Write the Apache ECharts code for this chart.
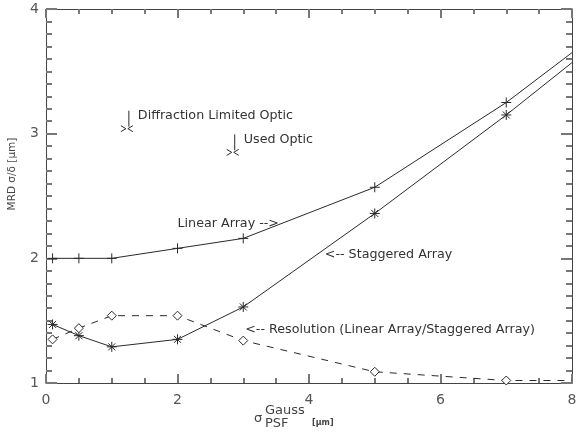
<!DOCTYPE html>
<html><head><meta charset="utf-8">
<script src="https://cdn.jsdelivr.net/npm/echarts@6/dist/echarts.min.js"></script>
<style>html,body{margin:0;padding:0;background:#fff}#c{width:577px;height:432px}</style>
</head><body><div id="c"></div>
<script>
// ---- data ----
const linearX = [0.1, 0.5, 1, 2, 3, 5, 7, 8];
const linearY = [2.0, 2.0, 2.0, 2.08, 2.16, 2.57, 3.25, 3.65];
const staggeredX = [0.1, 0.5, 1, 2, 3, 5, 7, 8];
const staggeredY = [1.47, 1.38, 1.29, 1.35, 1.61, 2.36, 3.15, 3.57];
const resolutionX = [0.1, 0.5, 1, 2, 3, 5, 7, 8];
const resolutionY = [1.35, 1.44, 1.54, 1.54, 1.34, 1.09, 1.02, 1.02];
const markedCount = 7; // last point of each curve sits on the plot edge (no marker)
const opticNames = ['Diffraction Limited Optic', 'Used Optic'];
const opticX = [1.23, 2.84];
const opticY = [3.04, 2.85];
const annotText = ['Linear Array -->', '<-- Staggered Array', '<-- Resolution (Linear Array/Staggered Array)'];
const annotX = [2.0, 4.24, 3.03];
const annotY = [2.28, 2.03, 1.43];
const xTicks = [0, 2, 4, 6, 8];
const yTicks = [1, 2, 3, 4];
const xMinorSplit = 4;
const yMinorSplit = 10;

const INK = '#2a2a2a';
const AX = '#444';
const TICK = '#777';
const FONT = 'DejaVu Sans';
const TXT = '12.7px "DejaVu Sans"';
const plus = 'path://M0,5L10,5M5,0L5,10';
const star = 'path://M0,5L10,5M5,0L5,10M1.5,1.5L8.5,8.5M1.5,8.5L8.5,1.5';

function mk(xs, ys, sym) {
  return xs.map((x, i) => ({ value: [x, ys[i]], symbol: i < markedCount ? sym : 'none' }));
}
const chart = echarts.init(document.getElementById('c'), null, { renderer: 'canvas' });
const xMin = xTicks[0], xMax = xTicks[xTicks.length - 1];
const yMin = yTicks[0], yMax = yTicks[yTicks.length - 1];
function xAx(pos, labels) {
  return { type: 'value', position: pos, min: xMin, max: xMax, interval: 2,
    axisLine: { show: true, onZero: false, lineStyle: { color: AX, width: 1 } }, splitLine: { show: false },
    axisTick: { show: true, inside: true, length: 9, lineStyle: { color: TICK, width: 2 } },
    minorTick: { show: true, splitNumber: xMinorSplit, length: 5, lineStyle: { color: TICK, width: 2 } },
    axisLabel: labels ? { show: true, color: '#555', fontFamily: FONT, fontSize: 14, margin: 10 } : { show: false } };
}
function yAx(pos, labels) {
  return { type: 'value', position: pos, min: yMin, max: yMax, interval: 1,
    axisLine: { show: true, onZero: false, lineStyle: { color: AX, width: 1 } }, splitLine: { show: false },
    axisTick: { show: true, inside: true, length: 11, lineStyle: { color: TICK, width: 2 } },
    minorTick: { show: true, splitNumber: yMinorSplit, length: 6, lineStyle: { color: TICK, width: 2 } },
    axisLabel: labels ? { show: true, color: '#555', fontFamily: FONT, fontSize: 14, margin: 7, padding: [0, 0, 4, 0] } : { show: false } };
}
chart.setOption({
  animation: false,
  backgroundColor: '#fff',
  grid: { left: 46, right: 5, top: 9, bottom: 49, containLabel: false, outerBoundsMode: 'none' },
  xAxis: [xAx('bottom', true), xAx('top', false)],
  yAxis: [yAx('left', true), yAx('right', false)],
  graphic: [
    { type: 'text', x: 12, y: 174, rotation: Math.PI / 2,
      style: { text: 'MRD σ/δ [μm]', fill: '#444', font: '10.5px "DejaVu Sans"', textAlign: 'center', textVerticalAlign: 'middle' } },
    { type: 'text', x: 254, y: 412, style: { text: 'σ', fill: '#444', font: '13px "DejaVu Sans"' } },
    { type: 'text', x: 265, y: 404, style: { text: 'Gauss', fill: '#444', font: '13px "DejaVu Sans"' } },
    { type: 'text', x: 265, y: 417, style: { text: 'PSF', fill: '#444', font: '13px "DejaVu Sans"' } },
    { type: 'text', x: 312, y: 419, style: { text: '[μm]', fill: '#444', font: 'bold 8px "DejaVu Sans"' } }
  ],
  series: [
    { type: 'line', name: 'Linear Array', data: mk(linearX, linearY, plus), symbolSize: 10,
      lineStyle: { color: INK, width: 1 }, itemStyle: { color: 'transparent', borderColor: INK, borderWidth: 1 } },
    { type: 'line', name: 'Staggered Array', data: mk(staggeredX, staggeredY, star), symbolSize: 10,
      lineStyle: { color: INK, width: 1 }, itemStyle: { color: 'transparent', borderColor: INK, borderWidth: 1 } },
    { type: 'line', name: 'Resolution', data: mk(resolutionX, resolutionY, 'diamond'), symbolSize: [9, 9],
      lineStyle: { color: INK, width: 1, type: [7, 7] }, itemStyle: { color: '#fff', borderColor: INK, borderWidth: 1 } },
    { type: 'custom', name: 'optics', data: opticX.map((x, i) => [x, opticY[i], opticNames[i]]),
      renderItem: function (params, api) {
        const p = api.coord([api.value(0), api.value(1)]);
        const x = p[0], y = p[1];
        const st = { stroke: INK, lineWidth: 1, fill: null };
        return { type: 'group', children: [
          { type: 'line', shape: { x1: x + 2, y1: y - 18, x2: x + 2, y2: y - 2 }, style: st },
          { type: 'polyline', shape: { points: [[x - 6, y - 3], [x - 1, y], [x - 6, y + 3]] }, style: st },
          { type: 'polyline', shape: { points: [[x + 6, y - 3], [x + 1, y], [x + 6, y + 3]] }, style: st },
          { type: 'text', x: x + 11, y: y - 13, style: { text: api.value(2), fill: '#333', font: TXT, textVerticalAlign: 'middle', textAlign: 'left' } }
        ] };
      } },
    { type: 'custom', name: 'annotations', data: annotX.map((x, i) => [x, annotY[i], annotText[i]]),
      renderItem: function (params, api) {
        const p = api.coord([api.value(0), api.value(1)]);
        return { type: 'text', x: p[0], y: p[1], style: { text: api.value(2), fill: '#333', font: TXT, textVerticalAlign: 'middle', textAlign: 'left' } };
      } }
  ]
});
</script></body></html>
